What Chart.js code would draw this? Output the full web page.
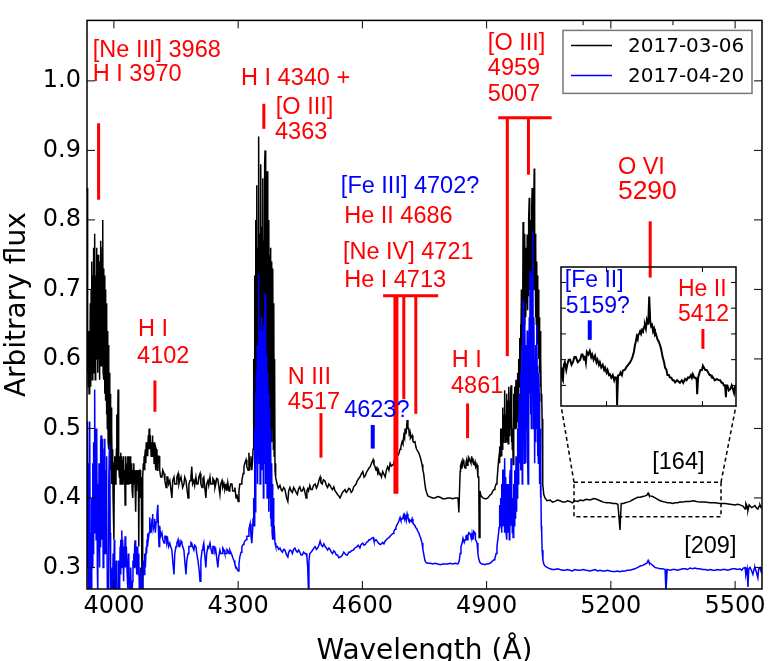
<!DOCTYPE html>
<html><head><meta charset="utf-8">
<script src="https://cdn.jsdelivr.net/npm/chart.js@4.4.0/dist/chart.umd.min.js"></script>
<style>
html,body{margin:0;padding:0;background:#fff;}
#wrap{position:relative;width:773px;height:661px;overflow:hidden;}
#main{position:absolute;left:0;top:0;}
#inset{position:absolute;}
</style></head><body>
<div id="wrap"><canvas id="main" width="773" height="661"></canvas><canvas id="inset" width="10" height="10"></canvas></div>
<script>
// ---------------- data ----------------
const X_TICKS = [4000, 4300, 4600, 4900, 5200, 5500];
const X_TICK_LABELS = ['4000', '4300', '4600', '4900', '5200', '5500'];
const X_TOP_EXTRA_TICKS = [5133, 5350];
const Y_TICKS = [0.3, 0.4, 0.5, 0.6, 0.7, 0.8, 0.9, 1.0];
const Y_TICK_LABELS = ['0.3', '0.4', '0.5', '0.6', '0.7', '0.8', '0.9', '1.0'];
const SERIES_NAMES = ['2017-03-06', '2017-04-20'];

// [wavelength (A), flux]
const SPEC_0306 = [
[3935,0.846],[3936,0.58],[3937,0.62],[3938,0.56],[3939,0.64],[3940,0.55],[3941,0.62],[3942,0.57],[3943,0.68],[3944,0.56],[3945,0.70],[3946,0.58],[3947,0.74],[3948,0.57],[3949,0.72],[3950,0.60],[3951,0.76],[3952,0.58],[3953,0.74],[3954,0.78],[3955,0.57],[3956,0.72],[3957,0.60],[3958,0.76],[3959,0.62],[3960,0.74],[3961,0.58],[3962,0.75],[3963,0.60],[3964,0.73],[3965,0.57],[3966,0.74],[3967,0.60],[3968,0.77],[3969,0.59],[3970,0.72],[3971,0.62],[3972,0.76],[3973,0.80],[3974,0.58],[3975,0.73],[3976,0.57],[3977,0.72],[3978,0.55],[3979,0.70],[3980,0.54],[3981,0.68],[3982,0.52],[3983,0.66],[3984,0.50],[3985,0.64],[3986,0.48],[3987,0.62],[3988,0.47],[3989,0.58],[3990,0.45],[3991,0.55],[3992,0.44],[3993,0.53],[3994,0.42],[3995,0.50],[3996,0.43],[3997,0.47],[3998,0.40],[4000,0.34],[4001,0.45],[4002,0.46],[4003,0.42],[4005,0.43],[4006,0.47],[4007,0.52],[4008,0.44],[4010,0.556],[4011,0.44],[4012,0.45],[4013,0.43],[4014,0.46],[4015,0.42],[4016,0.465],[4017,0.42],[4018,0.45],[4019,0.46],[4020,0.42],[4021,0.455],[4022,0.43],[4023,0.46],[4024,0.45],[4025,0.42],[4026,0.44],[4027,0.39],[4028,0.44],[4029,0.46],[4030,0.42],[4031,0.45],[4032,0.42],[4033,0.46],[4034,0.45],[4035,0.42],[4036,0.43],[4037,0.46],[4038,0.42],[4039,0.46],[4040,0.43],[4041,0.42],[4042,0.45],[4043,0.44],[4044,0.41],[4045,0.44],[4046,0.40],[4047,0.44],[4048,0.45],[4049,0.42],[4050,0.44],[4051,0.42],[4052,0.44],[4053,0.38],[4054,0.43],[4055,0.41],[4056,0.44],[4057,0.43],[4058,0.42],[4059,0.44],[4060,0.33],[4061,0.42],[4062,0.44],[4063,0.44],[4064,0.41],[4065,0.40],[4066,0.43],[4068,0.25],[4069,0.42],[4070,0.43],[4071,0.45],[4072,0.44],[4073,0.46],[4074,0.44],[4075,0.46],[4076,0.47],[4077,0.45],[4078,0.48],[4079,0.46],[4080,0.48],[4081,0.47],[4082,0.46],[4083,0.49],[4084,0.47],[4085,0.50],[4086,0.47],[4087,0.47],[4088,0.49],[4089,0.49],[4090,0.46],[4091,0.48],[4092,0.46],[4093,0.49],[4094,0.48],[4095,0.46],[4096,0.48],[4097,0.45],[4098,0.48],[4099,0.47],[4100,0.45],[4101,0.44],[4102,0.47],[4104,0.465],[4105,0.44],[4106,0.45],[4107,0.46],[4109,0.46],[4110,0.44],[4111,0.44],[4113,0.43],[4116,0.43],[4118,0.44],[4121,0.435],[4123,0.425],[4126,0.415],[4128,0.43],[4130,0.43],[4132,0.42],[4135,0.425],[4137,0.415],[4140,0.40],[4142,0.425],[4145,0.43],[4147,0.42],[4150,0.42],[4152,0.43],[4155,0.435],[4157,0.42],[4159,0.425],[4162,0.43],[4164,0.43],[4166,0.415],[4169,0.42],[4171,0.43],[4174,0.425],[4176,0.415],[4179,0.40],[4181,0.42],[4184,0.425],[4186,0.43],[4188,0.445],[4190,0.42],[4193,0.425],[4195,0.418],[4198,0.43],[4200,0.42],[4203,0.42],[4205,0.43],[4208,0.435],[4210,0.42],[4213,0.415],[4215,0.428],[4217,0.43],[4219,0.418],[4222,0.40],[4224,0.42],[4227,0.425],[4229,0.418],[4232,0.43],[4234,0.42],[4237,0.42],[4239,0.428],[4242,0.425],[4244,0.415],[4246,0.42],[4248,0.428],[4251,0.427],[4253,0.418],[4256,0.405],[4258,0.42],[4261,0.425],[4263,0.415],[4266,0.42],[4268,0.412],[4271,0.418],[4273,0.41],[4275,0.422],[4278,0.41],[4280,0.415],[4282,0.42],[4285,0.42],[4287,0.41],[4290,0.41],[4292,0.415],[4295,0.40],[4297,0.405],[4300,0.395],[4302,0.41],[4304,0.42],[4307,0.42],[4309,0.425],[4312,0.435],[4314,0.445],[4316,0.45],[4319,0.455],[4321,0.445],[4324,0.44],[4326,0.465],[4328,0.44],[4329,0.45],[4331,0.46],[4333,0.44],[4335,0.455],[4336,0.47],[4337,0.50],
[4338,0.60],[4339,0.50],[4340,0.72],[4341,0.55],[4342,0.80],[4343,0.52],[4344,0.77],[4345,0.85],[4346,0.56],[4347,0.76],[4348,0.62],[4349,0.88],[4350,0.92],[4351,0.58],[4352,0.78],[4353,0.60],[4354,0.86],[4355,0.88],[4356,0.55],[4357,0.79],[4358,0.62],[4359,0.84],[4360,0.86],[4361,0.57],[4362,0.77],[4363,0.60],[4364,0.88],[4365,0.90],[4366,0.58],[4367,0.80],[4368,0.55],[4369,0.84],[4370,0.87],[4371,0.56],[4372,0.76],[4373,0.52],[4374,0.80],[4375,0.55],[4376,0.75],[4377,0.50],[4378,0.76],[4379,0.52],[4380,0.74],[4381,0.48],[4382,0.72],[4383,0.50],[4384,0.73],[4385,0.47],[4386,0.68],[4387,0.46],[4388,0.60],[4389,0.44],[4390,0.45],[4391,0.43],[4394,0.42],
[4397,0.414],[4401,0.418],[4404,0.412],[4406,0.41],[4410,0.415],[4413,0.412],[4417,0.40],[4420,0.395],[4422,0.41],[4425,0.415],[4428,0.41],[4431,0.408],[4434,0.415],[4437,0.412],[4440,0.408],[4443,0.405],[4446,0.413],[4449,0.416],[4452,0.41],[4455,0.41],[4458,0.415],[4460,0.412],[4464,0.40],[4466,0.41],[4468,0.413],[4470,0.41],[4473,0.418],[4476,0.412],[4479,0.412],[4482,0.418],[4486,0.42],[4489,0.414],[4492,0.418],[4495,0.425],[4498,0.43],[4500,0.422],[4503,0.42],[4506,0.426],[4510,0.424],[4513,0.418],[4516,0.415],[4519,0.42],[4522,0.418],[4525,0.414],[4528,0.412],[4531,0.416],[4534,0.41],[4537,0.408],[4540,0.405],[4543,0.403],[4546,0.40],[4549,0.404],[4552,0.408],[4555,0.41],[4558,0.412],[4561,0.408],[4564,0.41],[4567,0.414],[4570,0.413],[4573,0.408],[4576,0.41],[4579,0.416],[4582,0.418],[4585,0.42],[4587,0.424],[4590,0.427],[4594,0.43],[4597,0.434],[4601,0.438],[4604,0.43],[4607,0.432],[4610,0.437],[4613,0.44],[4616,0.443],[4619,0.445],[4622,0.45],[4626,0.455],[4628,0.448],[4630,0.446],[4633,0.44],[4635,0.445],[4637,0.436],[4639,0.44],[4641,0.434],[4643,0.435],[4646,0.43],[4649,0.438],[4652,0.434],[4655,0.43],[4658,0.44],[4661,0.445],[4664,0.44],[4667,0.45],[4670,0.446],[4674,0.448],[4676,0.452],[4679,0.455],[4681,0.46],[4684,0.464],[4687,0.462],[4691,0.47],[4693,0.474],[4696,0.481],[4698,0.478],[4700,0.49],[4702,0.486],[4703,0.50],[4705,0.492],[4706,0.495],[4708,0.512],[4710,0.50],[4712,0.50],[4713,0.492],[4715,0.495],[4716,0.486],[4718,0.488],[4720,0.49],[4722,0.482],[4724,0.48],[4727,0.481],[4729,0.474],[4731,0.47],[4734,0.467],[4736,0.465],[4739,0.46],[4741,0.456],[4744,0.448],[4746,0.44],[4748,0.435],[4751,0.42],[4753,0.412],[4755,0.408],[4758,0.403],[4762,0.402],[4765,0.401],[4770,0.40],[4775,0.40],[4782,0.402],[4788,0.401],[4794,0.399],[4800,0.399],[4806,0.40],[4812,0.40],[4818,0.399],[4824,0.40],[4831,0.40],[4833,0.379],[4836,0.438],[4837,0.446],[4839,0.45],[4840,0.442],[4841,0.445],[4843,0.455],[4845,0.452],[4846,0.446],[4848,0.443],[4850,0.45],[4852,0.455],[4853,0.447],[4855,0.45],[4857,0.458],[4860,0.453],[4862,0.45],[4864,0.46],[4865,0.452],[4867,0.457],[4868,0.449],[4870,0.448],[4872,0.452],[4874,0.444],[4875,0.445],[4877,0.447],[4879,0.43],[4881,0.43],[4882,0.343],[4884,0.41],[4886,0.404],[4888,0.402],[4891,0.40],[4896,0.399],[4899,0.399],[4903,0.40],[4908,0.404],[4912,0.406],[4915,0.41],[4918,0.412],[4920,0.415],[4923,0.42],
[4925,0.424],[4927,0.44],[4929,0.455],[4930,0.46],[4931,0.45],[4932,0.474],[4933,0.46],[4934,0.50],[4935,0.49],[4936,0.46],[4937,0.50],[4938,0.47],[4939,0.53],[4940,0.48],[4941,0.52],[4942,0.49],[4943,0.53],[4944,0.555],[4945,0.48],[4946,0.52],[4947,0.50],[4948,0.55],[4949,0.48],[4950,0.54],[4951,0.50],[4952,0.478],[4953,0.53],[4954,0.56],[4955,0.49],[4956,0.54],[4957,0.50],[4958,0.55],[4959,0.562],[4960,0.48],[4961,0.52],[4962,0.47],[4963,0.50],[4964,0.448],[4965,0.52],[4966,0.55],[4967,0.50],[4968,0.56],[4969,0.50],[4970,0.55],[4971,0.57],[4972,0.50],[4973,0.54],[4974,0.51],[4975,0.58],[4976,0.55],[4977,0.52],[4978,0.60],[4979,0.56],[4980,0.63],[4981,0.58],[4982,0.65],[4983,0.60],[4984,0.70],[4985,0.62],[4986,0.666],[4987,0.64],[4988,0.797],[4989,0.66],[4990,0.72],[4991,0.65],[4992,0.78],[4993,0.68],[4994,0.76],[4995,0.66],[4996,0.75],[4997,0.68],[4998,0.779],[4999,0.67],[5000,0.74],[5001,0.69],[5002,0.80],[5003,0.832],[5004,0.70],[5005,0.78],[5006,0.72],[5007,0.80],[5008,0.70],[5009,0.82],[5010,0.846],[5011,0.72],[5012,0.79],[5013,0.70],[5014,0.83],[5015,0.874],[5016,0.70],[5017,0.78],[5018,0.66],[5019,0.76],[5020,0.65],[5021,0.74],[5022,0.64],[5023,0.72],[5024,0.62],[5025,0.70],[5026,0.60],[5027,0.66],[5028,0.58],[5029,0.64],[5030,0.56],[5031,0.60],[5032,0.54],[5033,0.55],[5034,0.514],[5035,0.46],[5036,0.42],[5038,0.405],[5041,0.40],[5046,0.396],[5053,0.397],[5059,0.394],[5065,0.395],[5071,0.397],[5077,0.396],[5084,0.394],[5090,0.394],[5095,0.396],[5101,0.395],[5107,0.393],[5113,0.396],[5120,0.395],[5126,0.397],[5133,0.396],[5140,0.398],[5150,0.397],[5159,0.399],[5166,0.398],[5174,0.396],[5182,0.394],[5190,0.393],[5198,0.393],[5205,0.392],[5212,0.392],[5217,0.391],[5220,0.37],[5222,0.354],[5225,0.392],[5230,0.392],[5235,0.393],[5240,0.394],[5246,0.395],[5252,0.397],[5258,0.399],[5265,0.401],[5271,0.401],[5277,0.402],[5283,0.403],[5287,0.404],[5290,0.407],[5292,0.404],[5295,0.403],[5301,0.402],[5307,0.40],[5313,0.398],[5319,0.396],[5325,0.395],[5331,0.394],[5337,0.393],[5343,0.393],[5349,0.392],[5355,0.393],[5361,0.393],[5367,0.394],[5374,0.394],[5380,0.395],[5390,0.395],[5400,0.396],[5407,0.395],[5415,0.394],[5427,0.394],[5440,0.393],[5452,0.393],[5464,0.392],[5476,0.392],[5488,0.391],[5500,0.39],[5506,0.391],[5512,0.39],[5520,0.388],[5524,0.384],[5526,0.392],[5529,0.388],[5531,0.382],[5534,0.39],[5536,0.39],[5540,0.386],[5543,0.387],[5548,0.389],[5551,0.386],[5555,0.384],[5558,0.388],[5560,0.39],[5563,0.386],[5565,0.388]
];

const SPEC_0420 = [
[3935,0.40],[3936,0.30],[3937,0.51],[3938,0.27],[3939,0.45],[3940,0.26],[3941,0.48],[3942,0.51],[3943,0.28],[3944,0.25],[3945,0.35],[3946,0.25],[3947,0.40],[3948,0.30],[3949,0.45],[3950,0.32],[3951,0.48],[3952,0.35],[3953,0.52],[3954,0.556],[3955,0.36],[3956,0.50],[3957,0.34],[3958,0.49],[3959,0.50],[3960,0.30],[3961,0.26],[3962,0.42],[3963,0.32],[3964,0.45],[3965,0.30],[3966,0.40],[3967,0.33],[3968,0.48],[3969,0.49],[3970,0.34],[3971,0.45],[3972,0.35],[3973,0.485],[3974,0.30],[3975,0.42],[3976,0.33],[3977,0.47],[3978,0.485],[3979,0.32],[3980,0.44],[3981,0.36],[3982,0.46],[3983,0.40],[3984,0.28],[3985,0.25],[3986,0.25],[3987,0.36],[3988,0.42],[3989,0.47],[3990,0.477],[3991,0.35],[3992,0.30],[3993,0.25],[3995,0.25],[3996,0.30],[3997,0.27],[3998,0.32],[3999,0.26],[4000,0.29],[4001,0.34],[4002,0.30],[4003,0.26],[4005,0.26],[4006,0.31],[4007,0.30],[4008,0.25],[4010,0.25],[4011,0.29],[4012,0.31],[4013,0.27],[4014,0.28],[4015,0.33],[4016,0.29],[4017,0.34],[4018,0.30],[4019,0.353],[4020,0.31],[4021,0.34],[4022,0.32],[4023,0.28],[4024,0.29],[4025,0.33],[4026,0.30],[4027,0.345],[4028,0.31],[4029,0.30],[4030,0.33],[4031,0.33],[4032,0.29],[4033,0.27],[4034,0.28],[4035,0.32],[4036,0.31],[4037,0.28],[4038,0.26],[4039,0.27],[4040,0.29],[4041,0.30],[4042,0.26],[4043,0.25],[4045,0.28],[4046,0.31],[4047,0.30],[4048,0.32],[4049,0.30],[4050,0.33],[4051,0.339],[4052,0.31],[4053,0.30],[4054,0.32],[4055,0.29],[4056,0.33],[4057,0.30],[4058,0.31],[4059,0.29],[4060,0.32],[4061,0.28],[4062,0.25],[4063,0.25],[4064,0.28],[4065,0.30],[4066,0.27],[4067,0.25],[4069,0.25],[4070,0.28],[4071,0.31],[4072,0.30],[4073,0.29],[4074,0.32],[4075,0.32],[4076,0.30],[4077,0.30],[4078,0.33],[4079,0.32],[4080,0.34],[4081,0.33],[4082,0.349],[4083,0.34],[4085,0.35],[4086,0.36],[4087,0.372],[4088,0.355],[4089,0.36],[4090,0.35],[4092,0.37],[4093,0.36],[4094,0.377],[4095,0.355],[4097,0.36],[4098,0.37],[4099,0.37],[4100,0.35],[4101,0.35],[4102,0.365],[4104,0.377],[4106,0.39],[4108,0.345],[4109,0.33],[4110,0.35],[4111,0.36],[4113,0.345],[4116,0.35],[4118,0.34],[4121,0.335],[4123,0.345],[4126,0.345],[4128,0.335],[4130,0.34],[4132,0.33],[4135,0.335],[4137,0.33],[4140,0.325],[4142,0.31],[4145,0.29],[4147,0.32],[4150,0.33],[4152,0.335],[4155,0.34],[4157,0.33],[4159,0.33],[4162,0.338],[4164,0.335],[4166,0.33],[4169,0.325],[4171,0.31],[4174,0.29],[4176,0.31],[4179,0.32],[4181,0.33],[4184,0.33],[4186,0.336],[4188,0.335],[4190,0.33],[4193,0.325],[4195,0.332],[4198,0.33],[4200,0.32],[4203,0.31],[4206,0.295],[4208,0.28],[4210,0.31],[4213,0.325],[4215,0.33],[4217,0.335],[4219,0.32],[4222,0.30],[4224,0.32],[4227,0.33],[4229,0.328],[4232,0.335],[4234,0.328],[4237,0.32],[4239,0.33],[4242,0.33],[4244,0.322],[4246,0.325],[4248,0.315],[4251,0.30],[4253,0.315],[4256,0.325],[4258,0.32],[4261,0.32],[4263,0.328],[4266,0.325],[4268,0.32],[4271,0.32],[4273,0.326],[4275,0.325],[4278,0.32],[4280,0.325],[4282,0.322],[4285,0.318],[4287,0.314],[4290,0.31],[4292,0.305],[4295,0.30],[4297,0.298],[4300,0.295],[4302,0.305],[4304,0.315],[4307,0.322],[4309,0.33],[4312,0.333],[4314,0.335],[4316,0.338],[4319,0.34],[4321,0.345],[4324,0.345],[4326,0.355],[4329,0.363],[4331,0.345],[4333,0.335],[4335,0.355],[4336,0.37],[4337,0.38],
[4338,0.40],[4339,0.36],[4340,0.50],[4341,0.38],[4342,0.55],[4343,0.40],[4344,0.58],[4345,0.45],[4346,0.62],[4347,0.42],[4348,0.60],[4349,0.48],[4350,0.722],[4351,0.45],[4352,0.64],[4353,0.42],[4354,0.62],[4355,0.50],[4356,0.66],[4357,0.44],[4358,0.64],[4359,0.46],[4360,0.60],[4361,0.40],[4362,0.65],[4363,0.45],[4364,0.62],[4365,0.694],[4366,0.42],[4367,0.60],[4368,0.44],[4369,0.605],[4370,0.40],[4371,0.58],[4372,0.42],[4373,0.55],[4374,0.38],[4375,0.53],[4376,0.40],[4377,0.50],[4378,0.37],[4379,0.48],[4380,0.36],[4381,0.45],[4382,0.35],[4383,0.42],[4384,0.34],[4385,0.40],[4386,0.34],[4387,0.36],[4389,0.335],[4391,0.33],
[4395,0.33],[4398,0.326],[4401,0.328],[4404,0.324],[4407,0.322],[4410,0.326],[4413,0.325],[4417,0.318],[4420,0.315],[4422,0.322],[4425,0.325],[4428,0.324],[4431,0.32],[4434,0.326],[4437,0.328],[4440,0.324],[4443,0.322],[4446,0.325],[4449,0.322],[4452,0.318],[4455,0.318],[4458,0.322],[4461,0.32],[4464,0.32],[4466,0.315],[4468,0.30],[4470,0.26],[4471,0.31],[4473,0.32],[4476,0.322],[4480,0.325],[4483,0.328],[4486,0.33],[4489,0.326],[4492,0.328],[4495,0.332],[4498,0.338],[4501,0.332],[4504,0.33],[4507,0.334],[4510,0.33],[4513,0.328],[4516,0.325],[4519,0.328],[4522,0.326],[4525,0.322],[4528,0.32],[4531,0.324],[4534,0.322],[4537,0.318],[4540,0.318],[4543,0.314],[4546,0.315],[4549,0.316],[4552,0.318],[4555,0.322],[4558,0.32],[4561,0.318],[4564,0.318],[4567,0.322],[4570,0.322],[4574,0.324],[4578,0.325],[4582,0.328],[4587,0.33],[4590,0.332],[4594,0.328],[4597,0.333],[4601,0.335],[4604,0.332],[4607,0.333],[4610,0.336],[4613,0.337],[4616,0.34],[4619,0.34],[4622,0.342],[4626,0.343],[4628,0.338],[4630,0.338],[4633,0.34],[4635,0.34],[4639,0.335],[4643,0.333],[4646,0.334],[4649,0.336],[4652,0.334],[4655,0.338],[4658,0.34],[4661,0.342],[4664,0.343],[4667,0.345],[4670,0.347],[4674,0.349],[4676,0.352],[4679,0.355],[4681,0.358],[4684,0.362],[4687,0.365],[4691,0.372],[4693,0.368],[4696,0.37],[4698,0.373],[4700,0.376],[4702,0.37],[4703,0.375],[4705,0.372],[4706,0.368],[4708,0.377],[4710,0.372],[4712,0.37],[4714,0.366],[4715,0.368],[4718,0.366],[4720,0.37],[4722,0.364],[4724,0.362],[4727,0.36],[4729,0.357],[4731,0.356],[4734,0.352],[4736,0.35],[4739,0.345],[4741,0.342],[4744,0.335],[4746,0.326],[4748,0.32],[4751,0.31],[4754,0.307],[4758,0.306],[4764,0.306],[4770,0.305],[4775,0.306],[4782,0.305],[4788,0.304],[4794,0.305],[4800,0.305],[4806,0.305],[4812,0.306],[4818,0.305],[4824,0.306],[4831,0.305],[4834,0.31],[4836,0.32],[4838,0.33],[4841,0.335],[4843,0.342],[4845,0.342],[4846,0.336],[4848,0.34],[4850,0.345],[4852,0.346],[4853,0.34],[4855,0.345],[4857,0.35],[4860,0.349],[4862,0.344],[4864,0.342],[4865,0.348],[4867,0.34],[4869,0.352],[4872,0.35],[4873,0.34],[4875,0.338],[4877,0.335],[4879,0.32],[4881,0.312],[4884,0.307],[4888,0.305],[4891,0.305],[4896,0.304],[4899,0.305],[4903,0.305],[4908,0.306],[4912,0.308],[4915,0.31],[4918,0.311],[4920,0.313],[4923,0.32],
[4925,0.33],[4927,0.34],[4929,0.35],[4930,0.357],[4931,0.37],[4932,0.39],[4933,0.36],[4934,0.40],[4935,0.396],[4936,0.35],[4937,0.42],[4938,0.36],[4939,0.44],[4940,0.44],[4941,0.36],[4942,0.40],[4943,0.35],[4944,0.457],[4945,0.37],[4946,0.43],[4947,0.35],[4948,0.42],[4949,0.34],[4950,0.40],[4951,0.35],[4952,0.42],[4953,0.36],[4954,0.38],[4955,0.34],[4956,0.43],[4957,0.44],[4958,0.36],[4959,0.457],[4960,0.37],[4961,0.41],[4962,0.35],[4963,0.40],[4964,0.343],[4965,0.38],[4966,0.42],[4967,0.36],[4968,0.44],[4969,0.40],[4970,0.37],[4971,0.46],[4972,0.38],[4973,0.45],[4974,0.40],[4975,0.50],[4976,0.42],[4977,0.52],[4978,0.47],[4979,0.55],[4980,0.45],[4981,0.533],[4982,0.44],[4983,0.58],[4984,0.46],[4985,0.62],[4986,0.42],[4987,0.60],[4988,0.684],[4989,0.48],[4990,0.62],[4991,0.45],[4992,0.66],[4993,0.60],[4994,0.50],[4995,0.45],[4996,0.62],[4997,0.50],[4998,0.641],[4999,0.46],[5000,0.42],[5001,0.58],[5002,0.50],[5003,0.66],[5004,0.55],[5005,0.727],[5006,0.52],[5007,0.68],[5008,0.50],[5009,0.72],[5010,0.70],[5011,0.55],[5012,0.783],[5013,0.50],[5014,0.66],[5015,0.58],[5016,0.45],[5017,0.60],[5018,0.48],[5019,0.62],[5020,0.50],[5021,0.65],[5022,0.59],[5023,0.46],[5024,0.56],[5025,0.45],[5026,0.58],[5027,0.55],[5028,0.42],[5029,0.50],[5030,0.40],[5031,0.45],[5032,0.36],[5033,0.35],[5034,0.325],[5036,0.31],[5038,0.305],[5041,0.302],[5046,0.30],[5053,0.298],[5059,0.297],[5065,0.297],[5071,0.298],[5077,0.297],[5084,0.296],[5090,0.296],[5095,0.297],[5101,0.296],[5107,0.295],[5113,0.297],[5120,0.296],[5126,0.296],[5133,0.297],[5140,0.296],[5150,0.295],[5156,0.296],[5162,0.297],[5168,0.295],[5174,0.296],[5180,0.295],[5186,0.295],[5192,0.296],[5198,0.295],[5204,0.294],[5210,0.294],[5216,0.295],[5222,0.294],[5228,0.295],[5234,0.295],[5240,0.296],[5246,0.296],[5252,0.297],[5258,0.298],[5265,0.30],[5271,0.302],[5277,0.303],[5283,0.305],[5287,0.306],[5290,0.31],[5292,0.307],[5295,0.306],[5301,0.303],[5307,0.30],[5313,0.299],[5319,0.298],[5325,0.298],[5331,0.297],[5333,0.265],[5336,0.297],[5343,0.296],[5349,0.297],[5355,0.297],[5361,0.296],[5367,0.297],[5374,0.298],[5380,0.298],[5385,0.297],[5391,0.299],[5397,0.298],[5403,0.299],[5409,0.298],[5415,0.298],[5421,0.297],[5428,0.297],[5434,0.296],[5440,0.297],[5446,0.296],[5452,0.296],[5458,0.297],[5464,0.296],[5470,0.297],[5476,0.297],[5482,0.296],[5488,0.297],[5494,0.298],[5500,0.298],[5506,0.297],[5512,0.298],[5516,0.296],[5520,0.299],[5524,0.30],[5526,0.29],[5529,0.298],[5531,0.272],[5533,0.298],[5536,0.30],[5540,0.295],[5543,0.29],[5546,0.298],[5548,0.30],[5552,0.292],[5555,0.285],[5557,0.298],[5560,0.30],[5563,0.294],[5565,0.30]
];

// inset (zoom of the dashed box, 2017-03-06 spectrum), in the inset's own flux units
const INSET_SPEC = [
[5105,0.387],[5107,0.383],[5109,0.382],[5111,0.388],[5113,0.389],[5116,0.386],[5118,0.388],[5121,0.390],[5124,0.390],[5127,0.388],[5130,0.389],[5133,0.391],[5136,0.391],[5140,0.389],[5145,0.390],[5148,0.392],[5150,0.392],[5153,0.390],[5155,0.3915],[5157,0.389],[5159,0.393],[5162,0.392],[5165,0.3934],[5168,0.391],[5170,0.392],[5173,0.390],[5176,0.3915],[5179,0.389],[5181,0.390],[5184,0.388],[5186,0.389],[5189,0.387],[5192,0.388],[5195,0.386],[5197,0.3869],[5200,0.385],[5202,0.386],[5205,0.384],[5207,0.3843],[5210,0.383],[5213,0.384],[5216,0.382],[5218,0.3831],[5221,0.383],[5222,0.3724],[5224,0.3839],[5227,0.384],[5229,0.385],[5232,0.384],[5234,0.3858],[5238,0.386],[5241,0.387],[5245,0.388],[5249,0.3889],[5252,0.390],[5254,0.391],[5257,0.393],[5259,0.3954],[5261,0.397],[5263,0.399],[5265,0.398],[5266,0.3996],[5268,0.400],[5270,0.401],[5272,0.400],[5274,0.4015],[5276,0.401],[5277,0.402],[5279,0.403],[5280,0.4034],[5282,0.402],[5284,0.4053],[5286,0.404],[5287,0.404],[5289,0.4145],[5291,0.405],[5293,0.403],[5295,0.4035],[5297,0.401],[5299,0.402],[5301,0.3996],[5303,0.400],[5306,0.398],[5309,0.397],[5312,0.3954],[5314,0.394],[5317,0.391],[5320,0.389],[5322,0.3869],[5325,0.386],[5327,0.384],[5330,0.384],[5332,0.3831],[5335,0.383],[5338,0.382],[5340,0.382],[5343,0.3812],[5347,0.382],[5350,0.3815],[5353,0.381],[5357,0.382],[5360,0.381],[5364,0.3825],[5367,0.382],[5370,0.3831],[5373,0.383],[5376,0.384],[5378,0.383],[5380,0.3843],[5383,0.383],[5386,0.383],[5388,0.382],[5389,0.3766],[5391,0.383],[5394,0.385],[5396,0.386],[5399,0.386],[5401,0.3877],[5403,0.387],[5406,0.386],[5409,0.386],[5412,0.385],[5415,0.384],[5417,0.384],[5420,0.383],[5422,0.3831],[5426,0.382],[5430,0.3825],[5434,0.382],[5437,0.382],[5440,0.381],[5442,0.381],[5445,0.380],[5447,0.3804],[5449,0.3754],[5450,0.380],[5452,0.380],[5455,0.378],[5458,0.3785],[5461,0.380],[5463,0.379],[5466,0.377],[5468,0.3793],[5470,0.379]
];
const INSET_X_TICKS = [5200, 5400];
const INSET_Y_TICKS = [0.38, 0.39, 0.40, 0.41, 0.42];

// ---------------- styling / annotation config ----------------
const RED = '#ff0000', BLUE = '#0000ff', BLACK = '#000000';
const SERIES_COLORS = [BLACK, BLUE];
const X_RANGE = [3935, 5565];
const Y_RANGE = [0.269, 1.087];
const INSET_X_RANGE = [5105, 5470];
const INSET_Y_RANGE = [0.372, 0.426];
// where the inset sits, in main-axes data coordinates
const INSET_PLACE = {wl0: 5080, wl1: 5502, f0: 0.532, f1: 0.732};
// dashed zoom box in main-axes data coordinates
const ZOOM_BOX = {wl0: 5111, wl1: 5466, f0: 0.373, f1: 0.4225};

const LABEL_FONT = '23.5px "Liberation Sans", Arial, sans-serif';
const LABELS = [
  {t:'[Ne III] 3968', x:3949, y:1.0347, c:RED},
  {t:'H I 3970', x:3949, y:0.9992, c:RED},
  {t:'H I 4340 +', x:4307, y:0.9935, c:RED},
  {t:'[O III]', x:4391, y:0.952, c:RED},
  {t:'4363', x:4389, y:0.9164, c:RED},
  {t:'[Fe III] 4702?', x:4548, y:0.8385, c:BLUE},
  {t:'He II 4686', x:4556, y:0.796, c:RED},
  {t:'[Ne IV] 4721', x:4553, y:0.7436, c:RED},
  {t:'He I 4713', x:4556, y:0.7038, c:RED},
  {t:'H I', x:4058, y:0.6329, c:RED},
  {t:'4102', x:4056, y:0.5945, c:RED},
  {t:'N III', x:4420, y:0.5637, c:RED},
  {t:'4517', x:4420, y:0.5274, c:RED},
  {t:'4623?', x:4556, y:0.5164, c:BLUE},
  {t:'H I', x:4816, y:0.5884, c:RED},
  {t:'4861', x:4814, y:0.5509, c:RED},
  {t:'[O III]', x:4903, y:1.0446, c:RED},
  {t:'4959', x:4903, y:1.0087, c:RED},
  {t:'5007', x:4903, y:0.9708, c:RED},
  {t:'O VI', x:5217, y:0.8667, c:RED},
  {t:'5290', x:5217, y:0.8302, c:RED, font:'26.5px "Liberation Sans", Arial, sans-serif'},
  {t:'[164]', x:5300, y:0.4412, c:BLACK},
  {t:'[209]', x:5377, y:0.3205, c:BLACK}
];
const MARKERS = [
  {x:3963, y0:0.829, y1:0.939, c:RED, w:3},
  {x:4362, y0:0.931, y1:0.967, c:RED, w:3},
  {x:4099, y0:0.524, y1:0.569, c:RED, w:3},
  {x:4500, y0:0.458, y1:0.522, c:RED, w:3},
  {x:4625, y0:0.471, y1:0.505, c:BLUE, w:4},
  {x:4854, y0:0.486, y1:0.536, c:RED, w:3},
  {x:4681, y0:0.406, y1:0.691, c:RED, w:5},
  {x:4700, y0:0.542, y1:0.691, c:RED, w:3},
  {x:4729, y0:0.521, y1:0.691, c:RED, w:3},
  {x:4950, y0:0.604, y1:0.947, c:RED, w:3},
  {x:5001, y0:0.865, y1:0.947, c:RED, w:3},
  {x:5295, y0:0.717, y1:0.798, c:RED, w:3}
];
const BRACKETS = [
  {y:0.691, x0:4650, x1:4783, c:RED, w:3},
  {y:0.947, x0:4928, x1:5057, c:RED, w:3}
];
const INSET_LABELS = [
  {t:'[Fe II]', x:5113, y:0.4183, c:BLUE},
  {t:'5159?', x:5115, y:0.408, c:BLUE},
  {t:'He II', x:5349, y:0.4149, c:RED},
  {t:'5412', x:5349, y:0.4049, c:RED}
];
const INSET_MARKERS = [
  {x:5165, y0:0.3977, y1:0.4053, c:BLUE, w:4},
  {x:5401, y0:0.3942, y1:0.4019, c:RED, w:3}
];
const TICK_FONT = {family:'DejaVu Sans', size:24};
const TITLE_FONT = {family:'DejaVu Sans', size:28, lineHeight:1};

// ---------------- helpers ----------------
function line(ctx, x0, y0, x1, y1) { ctx.beginPath(); ctx.moveTo(x0, y0); ctx.lineTo(x1, y1); ctx.stroke(); }
function drawFrameTicks(chart, xt, yt, len, lw, xtTopExtra) {
  const {ctx, chartArea: a, scales} = chart;
  ctx.save();
  ctx.strokeStyle = '#000';
  ctx.lineWidth = 1;
  xt.forEach(v => { const p = scales.x.getPixelForValue(v); line(ctx, p, a.bottom, p, a.bottom - len); line(ctx, p, a.top, p, a.top + len); });
  (xtTopExtra || []).forEach(v => { const p = scales.x.getPixelForValue(v); line(ctx, p, a.top, p, a.top + len * 0.6); });
  yt.forEach(v => { const p = scales.y.getPixelForValue(v); line(ctx, a.left, p, a.left + len, p); line(ctx, a.right, p, a.right - len, p); });
  ctx.lineWidth = lw;
  ctx.strokeRect(a.left, a.top, a.right - a.left, a.bottom - a.top);
  ctx.restore();
}
function drawMarkers(chart, markers, brackets) {
  const {ctx, scales: {x, y}} = chart;
  ctx.save();
  markers.forEach(m => { ctx.strokeStyle = m.c; ctx.lineWidth = m.w; line(ctx, x.getPixelForValue(m.x), y.getPixelForValue(m.y0), x.getPixelForValue(m.x), y.getPixelForValue(m.y1)); });
  (brackets || []).forEach(b => { ctx.strokeStyle = b.c; ctx.lineWidth = b.w; line(ctx, x.getPixelForValue(b.x0), y.getPixelForValue(b.y), x.getPixelForValue(b.x1), y.getPixelForValue(b.y)); });
  ctx.restore();
}
function drawLabels(chart, labels, font) {
  const {ctx, scales: {x, y}} = chart;
  ctx.save();
  ctx.textAlign = 'left'; ctx.textBaseline = 'alphabetic';
  labels.forEach(l => { ctx.font = l.font || font; ctx.fillStyle = l.c; ctx.fillText(l.t, x.getPixelForValue(l.x), y.getPixelForValue(l.y)); });
  ctx.restore();
}

const mainDecor = {
  id: 'mainDecor',
  afterDatasetsDraw(chart) {
    const {ctx, chartArea: a, scales: {x, y}} = chart;
    drawFrameTicks(chart, X_TICKS, Y_TICKS, 8, 1.5, X_TOP_EXTRA_TICKS);
    drawMarkers(chart, MARKERS, BRACKETS);
    drawLabels(chart, LABELS, LABEL_FONT);
    // dashed zoom box and connectors to inset
    ctx.save();
    ctx.strokeStyle = '#000'; ctx.lineWidth = 1.5; ctx.setLineDash([4, 3]);
    const bx0 = x.getPixelForValue(ZOOM_BOX.wl0), bx1 = x.getPixelForValue(ZOOM_BOX.wl1);
    const by0 = y.getPixelForValue(ZOOM_BOX.f1), by1 = y.getPixelForValue(ZOOM_BOX.f0);
    ctx.strokeRect(bx0, by0, bx1 - bx0, by1 - by0);
    const ix0 = x.getPixelForValue(INSET_PLACE.wl0), ix1 = x.getPixelForValue(INSET_PLACE.wl1), iy = y.getPixelForValue(INSET_PLACE.f0);
    line(ctx, bx0, by0, ix0, iy);
    line(ctx, bx1, by0, ix1, iy);
    ctx.restore();
    // legend
    ctx.save();
    const lx1 = a.right - 10, ly0 = a.top + 10, lw = 189, lh = 63;
    ctx.fillStyle = '#fff'; ctx.fillRect(lx1 - lw, ly0, lw, lh);
    ctx.strokeStyle = '#777'; ctx.lineWidth = 1.5; ctx.strokeRect(lx1 - lw, ly0, lw, lh);
    ctx.font = '20px "DejaVu Sans"'; ctx.textBaseline = 'alphabetic'; ctx.textAlign = 'left';
    chart.data.datasets.forEach((ds, i) => {
      const ry = ly0 + 15 + i * 30;
      ctx.strokeStyle = ds.borderColor; ctx.lineWidth = 1.5;
      line(ctx, lx1 - lw + 8, ry, lx1 - lw + 49, ry);
      ctx.fillStyle = '#000';
      ctx.fillText(ds.label, lx1 - lw + 65, ry + 7);
    });
    ctx.restore();
  }
};

const toPts = arr => arr.map(p => ({x: p[0], y: p[1]}));

const mainChart = new Chart(document.getElementById('main'), {
  type: 'line',
  data: {
    datasets: [
      {label: SERIES_NAMES[0], data: toPts(SPEC_0306), borderColor: SERIES_COLORS[0], borderWidth: 1.5, pointRadius: 0, tension: 0, clip: 0, order: 1},
      {label: SERIES_NAMES[1], data: toPts(SPEC_0420), borderColor: SERIES_COLORS[1], borderWidth: 1.5, pointRadius: 0, tension: 0, clip: 0, order: 0}
    ]
  },
  options: {
    responsive: false, animation: false, events: [],
    layout: {padding: {left: 0, right: 11, top: 13, bottom: 0}},
    plugins: {legend: {display: false}, tooltip: {enabled: false}, title: {display: false}},
    scales: {
      x: {
        type: 'linear', min: X_RANGE[0], max: X_RANGE[1],
        afterBuildTicks: s => { s.ticks = X_TICKS.map(v => ({value: v})); },
        afterFit: s => { s.height = 72; },
        ticks: {font: TICK_FONT, color: '#000', padding: 3, autoSkip: false, maxRotation: 0, callback: (v, i) => X_TICK_LABELS[i]},
        grid: {display: false, drawTicks: false}, border: {display: false},
        title: {display: true, text: 'Wavelength (Å)', color: '#000', font: {family: 'DejaVu Sans', size: 28, lineHeight: 0.65}, padding: 0}
      },
      y: {
        type: 'linear', min: Y_RANGE[0], max: Y_RANGE[1],
        afterBuildTicks: s => { s.ticks = Y_TICKS.map(v => ({value: v})); },
        afterFit: s => { s.width = 87; },
        ticks: {font: TICK_FONT, color: '#000', padding: 6, autoSkip: false, callback: (v, i) => Y_TICK_LABELS[i]},
        grid: {display: false, drawTicks: false}, border: {display: false},
        title: {display: true, text: 'Arbitrary flux', color: '#000', font: TITLE_FONT, padding: {top: 4, bottom: 0}}
      }
    }
  },
  plugins: [mainDecor]
});

// ---------------- inset ----------------
const insetDecor = {
  id: 'insetDecor',
  afterDatasetsDraw(chart) {
    drawFrameTicks(chart, INSET_X_TICKS, INSET_Y_TICKS, 5, 1.5);
    drawMarkers(chart, INSET_MARKERS);
    drawLabels(chart, INSET_LABELS, '23px "Liberation Sans", Arial, sans-serif');
  }
};
(function () {
  const xs = mainChart.scales.x, ys = mainChart.scales.y;
  const L = xs.getPixelForValue(INSET_PLACE.wl0), R = xs.getPixelForValue(INSET_PLACE.wl1);
  const T = ys.getPixelForValue(INSET_PLACE.f1), B = ys.getPixelForValue(INSET_PLACE.f0);
  const P = 3;
  const c = document.getElementById('inset');
  c.width = Math.round(R - L + 2 * P); c.height = Math.round(B - T + 2 * P);
  c.style.width = c.width + 'px'; c.style.height = c.height + 'px';
  c.style.left = (L - P) + 'px'; c.style.top = (T - P) + 'px';
  new Chart(c, {
    type: 'line',
    data: {datasets: [{label: SERIES_NAMES[0], data: toPts(INSET_SPEC), borderColor: BLACK, borderWidth: 2, pointRadius: 0, tension: 0, clip: 0}]},
    options: {
      responsive: false, animation: false, events: [],
      layout: {padding: P},
      plugins: {legend: {display: false}, tooltip: {enabled: false}},
      scales: {
        x: {type: 'linear', display: false, min: INSET_X_RANGE[0], max: INSET_X_RANGE[1]},
        y: {type: 'linear', display: false, min: INSET_Y_RANGE[0], max: INSET_Y_RANGE[1]}
      }
    },
    plugins: [insetDecor]
  });
})();
</script>
</body></html>
